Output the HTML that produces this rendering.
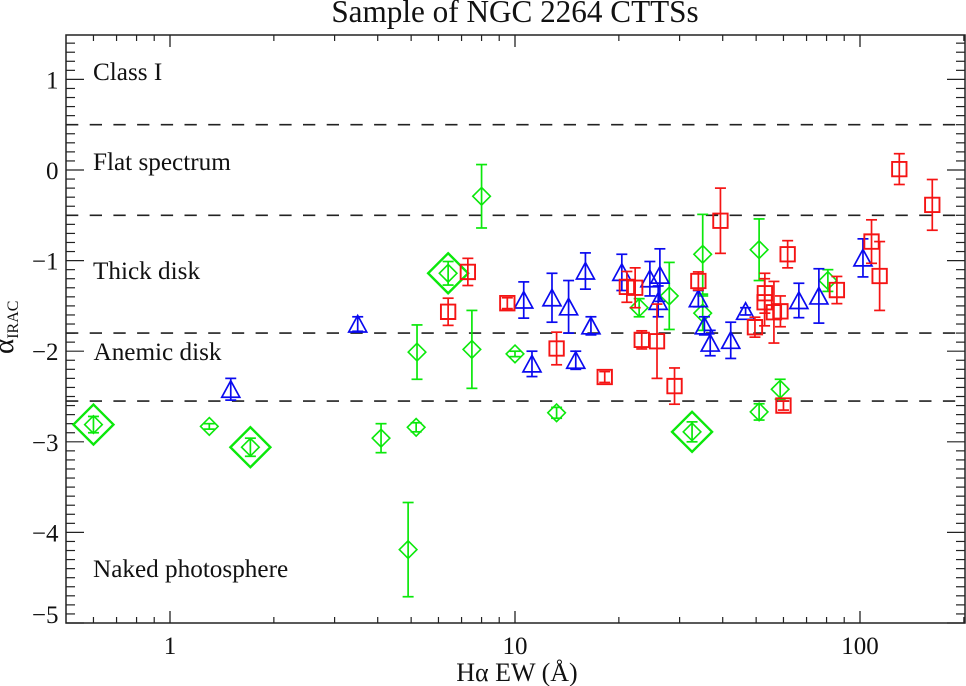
<!DOCTYPE html>
<html>
<head>
<meta charset="utf-8">
<title>Sample of NGC 2264 CTTSs</title>
<style>
html,body{margin:0;padding:0;background:#fff;}
svg{display:block;}
text{font-family:"Liberation Serif","DejaVu Serif",serif;fill:#111;}
</style>
</head>
<body>
<svg id="chart" width="966" height="686" viewBox="0 0 966 686" xmlns="http://www.w3.org/2000/svg">
  <text x="515" y="22" text-anchor="middle" font-size="31.2">Sample of NGC 2264 CTTSs</text>
  <g id="guides"></g>
  <g id="ticks"></g>
  <g id="marks"></g>
  <rect x="66" y="35" width="899" height="588" fill="none" stroke="#222" stroke-width="1.5"/>
  <g font-size="25.2">
    <text x="93" y="80">Class I</text>
    <text x="93" y="170">Flat spectrum</text>
    <text x="93" y="279">Thick disk</text>
    <text x="93.5" y="360">Anemic disk</text>
    <text x="93" y="577">Naked photosphere</text>
  </g>
  <g id="tick-labels" font-size="25"></g>
  <text x="517" y="681" text-anchor="middle" font-size="26">Hα EW (Å)</text>
  <g transform="translate(13,354) rotate(-90)">
    <text x="0" y="0" font-size="29">α<tspan font-size="16" dy="5">IRAC</tspan></text>
  </g>
</svg>
<script>
const boundaries = [0.5, -0.5, -1.8, -2.55];
const xTickValues = [1, 10, 100];
const xTickLabels = ['1', '10', '100'];
const xMinorTicks = [0.6,0.7,0.8,0.9,2,3,4,5,6,7,8,9,20,30,40,50,60,70,80,90,200];
const yTickValues = [1, 0, -1, -2, -3, -4, -5];
const yTickLabels = ['1', '0', '\u22121', '\u22122', '\u22123', '\u22124', '\u22125'];

const greenEW = [0.6,1.3,1.71,4.09,5.17,4.9,13.2,32.6,5.2,7.5,8.0,6.4,10,22.9,28,35,35,51,80.7,58.7,51];
const greenAlpha = [-2.81,-2.83,-3.06,-2.96,-2.84,-4.19,-2.68,-2.89,-2.01,-1.98,-0.29,-1.14,-2.03,-1.52,-1.39,-0.93,-1.58,-0.88,-1.22,-2.42,-2.67];
const greenErr = [0.09,0.03,0.1,0.16,0.05,0.52,0.06,0.11,0.3,0.43,0.35,0.13,0.03,0.1,0.37,0.44,0.19,0.34,0.12,0.11,0.09];
const greenHighlighted = [0, 2, 7, 11];

const blueEW = [3.5,1.5,10.6,11.2,12.8,14.3,16,16.6,15,20.4,24.6,26,26.3,34,35.4,36.8,42.2,46.6,66.5,76,102];
const blueAlpha = [-1.7,-2.42,-1.435,-2.14,-1.41,-1.51,-1.115,-1.72,-2.1,-1.13,-1.2,-1.45,-1.16,-1.42,-1.72,-1.91,-1.88,-1.56,-1.44,-1.39,-0.97];
const blueErr = [0.08,0.12,0.2,0.14,0.27,0.29,0.2,0.1,0.1,0.2,0.19,0.17,0.29,0.09,0.1,0.14,0.2,0.04,0.19,0.3,0.21];

const redEW = [7.3,6.4,9.5,13.2,18.2,21.1,22.3,23.3,25.8,29,34,39.4,49.6,53,52.9,56.3,58.8,61.7,60,85.7,108,114,130,162];
const redAlpha = [-1.125,-1.565,-1.47,-1.97,-2.285,-1.29,-1.3,-1.875,-1.89,-2.385,-1.225,-0.56,-1.735,-1.36,-1.46,-1.57,-1.56,-0.93,-2.6,-1.325,-0.79,-1.17,0.01,-0.385];
const redErr = [0.15,0.15,0.06,0.18,0.06,0.17,0.22,0.1,0.41,0.2,0.1,0.36,0.11,0.22,0.26,0.34,0.17,0.15,0.05,0.15,0.24,0.38,0.17,0.28];

const NS = 'http://www.w3.org/2000/svg';
const xPos = v => 170 + 345 * Math.log10(v);
const yPos = v => 623 - (v + 5) * 90.6;
const PLOT = {l: 66, r: 965, t: 35, b: 623};

function line(parent, x1, y1, x2, y2, stroke, w) {
  const el = document.createElementNS(NS, 'line');
  el.setAttribute('x1', x1);
  el.setAttribute('y1', y1);
  el.setAttribute('x2', x2);
  el.setAttribute('y2', y2);
  el.setAttribute('stroke', stroke);
  el.setAttribute('stroke-width', w);
  parent.appendChild(el);
  return el;
}

const guides = document.getElementById('guides');
boundaries.forEach(b => {
  const el = line(guides, PLOT.l, yPos(b), PLOT.r, yPos(b), '#222', 1.6);
  el.setAttribute('stroke-dasharray', '12.3 11.4');
  
  
});

const ticks = document.getElementById('ticks');
const TICK = '#222';
function tick(x1, y1, x2, y2, w) {
  const el = line(ticks, x1, y1, x2, y2, TICK, w);
  
  
}
xTickValues.forEach(v => {
  tick(xPos(v), PLOT.b, xPos(v), PLOT.b - 12, 1.3);
  tick(xPos(v), PLOT.t, xPos(v), PLOT.t + 12, 1.3);
});
xMinorTicks.forEach(v => {
  tick(xPos(v), PLOT.b, xPos(v), PLOT.b - 6, 1.2);
  tick(xPos(v), PLOT.t, xPos(v), PLOT.t + 6, 1.2);
});
for (let i = -50; i <= 14; i++) {
  const v = i / 10;
  const len = i % 10 === 0 ? 18 : 9;
  tick(PLOT.l, yPos(v), PLOT.l + len, yPos(v), 1.2);
  tick(PLOT.r, yPos(v), PLOT.r - len, yPos(v), 1.2);
}

const tickLabels = document.getElementById('tick-labels');
xTickValues.forEach((v, i) => {
  const el = document.createElementNS(NS, 'text');
  
  
  el.setAttribute('x', xPos(v));
  el.setAttribute('y', 654);
  el.setAttribute('text-anchor', 'middle');
  el.textContent = xTickLabels[i];
  tickLabels.appendChild(el);
});
yTickValues.forEach((v, i) => {
  const el = document.createElementNS(NS, 'text');
  
  
  el.setAttribute('x', 58.5);
  el.setAttribute('y', Math.min(yPos(v) + 9, 623));
  el.setAttribute('text-anchor', 'end');
  el.textContent = yTickLabels[i];
  tickLabels.appendChild(el);
});

const marks = document.getElementById('marks');
function errorBar(g, ew, alpha, err, color) {
  const x = xPos(ew);
  const yTop = yPos(alpha + err);
  const yBot = yPos(alpha - err);
  line(g, x, yTop, x, yBot, color, 1.7);
  line(g, x - 5.5, yTop, x + 5.5, yTop, color, 1.7);
  line(g, x - 5.5, yBot, x + 5.5, yBot, color, 1.7);
}
function shape(g, pts, color, w) {
  const el = document.createElementNS(NS, 'polygon');
  el.setAttribute('points', pts.map(p => p.join(',')).join(' '));
  el.setAttribute('fill', 'none');
  el.setAttribute('stroke', color);
  el.setAttribute('stroke-width', w);
  g.appendChild(el);
}
function diamondPts(x, y, r) {
  return [[x, y - r], [x + r, y], [x, y + r], [x - r, y]];
}

const GREEN = '#0be80b';
const BLUE = '#0a0af0';
const RED = '#f51414';

greenEW.forEach((ew, i) => {
  const g = document.createElementNS(NS, 'g');
  
  
  marks.appendChild(g);
  const x = xPos(ew), y = yPos(greenAlpha[i]);
  errorBar(g, ew, greenAlpha[i], greenErr[i], GREEN);
  shape(g, diamondPts(x, y, 8.8), GREEN, 1.6);
  if (greenHighlighted.includes(i)) {
    shape(g, diamondPts(x, y, 20), GREEN, 2.4);
  }
});

blueEW.forEach((ew, i) => {
  const g = document.createElementNS(NS, 'g');
  
  
  marks.appendChild(g);
  const x = xPos(ew), y = yPos(blueAlpha[i]);
  errorBar(g, ew, blueAlpha[i], blueErr[i], BLUE);
  shape(g, [[x, y - 8.5], [x + 9, y + 8], [x - 9, y + 8]], BLUE, 1.7);
});

redEW.forEach((ew, i) => {
  const g = document.createElementNS(NS, 'g');
  
  
  marks.appendChild(g);
  const x = xPos(ew), y = yPos(redAlpha[i]);
  errorBar(g, ew, redAlpha[i], redErr[i], RED);
  const r = 7.2;
  shape(g, [[x - r, y - r], [x + r, y - r], [x + r, y + r], [x - r, y + r]], RED, 1.9);
});
</script>
</body>
</html>
